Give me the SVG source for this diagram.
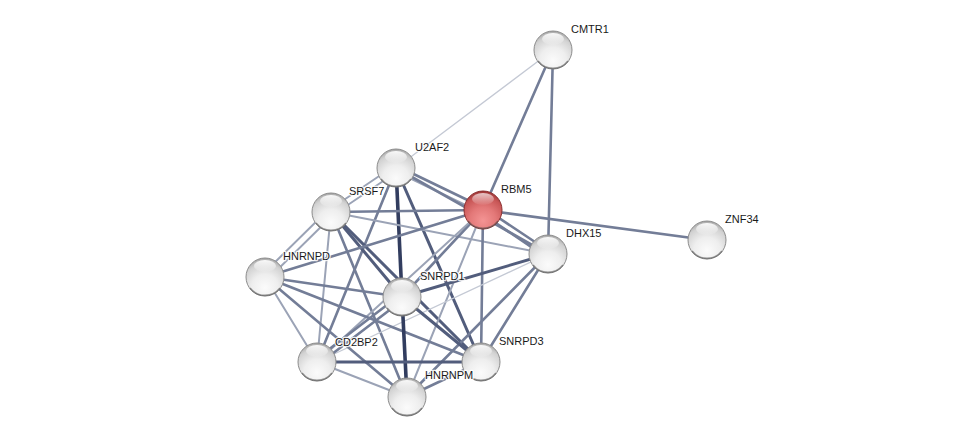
<svg xmlns="http://www.w3.org/2000/svg" width="976" height="441" viewBox="0 0 976 441">
<style>
.e{fill:none;stroke-linecap:round}
.e1{stroke:#c4c9d4;stroke-width:1.3}
.e2{stroke:#9ba3b6;stroke-width:2}
.e3{stroke:#737d97;stroke-width:2.6}
.e4{stroke:#525d7c;stroke-width:3}
.e5{stroke:#323d5f;stroke-width:3.6}
.lbl{font-family:"Liberation Sans",Arial,sans-serif;font-size:11px;fill:#1a1a1a;stroke:#ffffff;stroke-width:2.5;stroke-opacity:0.85;paint-order:stroke;stroke-linejoin:round}
.ball{stroke:#8c8c8c;stroke-width:1}
.rball{stroke:#8a2e2e;stroke-width:1}
.sh{fill:none;stroke:#4a4a4a;stroke-width:1.6;stroke-opacity:0.55}
</style>
<defs>
<radialGradient id="gw" cx="0.5" cy="0.78" r="0.78">
<stop offset="0" stop-color="#fbfbfb"/>
<stop offset="0.45" stop-color="#eeeeee"/>
<stop offset="0.8" stop-color="#d2d2d2"/>
<stop offset="1" stop-color="#a6a6a6"/>
</radialGradient>
<radialGradient id="gr" cx="0.5" cy="0.78" r="0.78">
<stop offset="0" stop-color="#f49494"/>
<stop offset="0.45" stop-color="#e37878"/>
<stop offset="0.8" stop-color="#c85656"/>
<stop offset="1" stop-color="#9c3434"/>
</radialGradient>
<linearGradient id="hl" x1="0" y1="0" x2="0" y2="1">
<stop offset="0" stop-color="#ffffff" stop-opacity="0.95"/>
<stop offset="1" stop-color="#ffffff" stop-opacity="0.05"/>
</linearGradient>
<g id="wb">
<circle class="ball" r="19" fill="url(#gw)"/>
<path class="sh" d="M-15,11 A19,19 0 0 0 15,11"/>
<ellipse cy="-11" rx="11" ry="6" fill="url(#hl)"/>
</g>
</defs>
<rect width="976" height="441" fill="#ffffff"/>
<g id="edges">
<line class="e e1" x1="553" y1="50" x2="396" y2="168"/>
<line class="e e3" x1="553" y1="50" x2="483" y2="210"/>
<line class="e e3" x1="553" y1="50" x2="548" y2="254"/>
<line class="e e3" x1="483" y1="210" x2="707" y2="240"/>
<line class="e e3" x1="484" y1="208" x2="550" y2="252"/>
<line class="e e3" x1="481" y1="213" x2="546" y2="257"/>
<line class="e e3" x1="397" y1="166" x2="484" y2="208"/>
<line class="e e2" x1="395" y1="171" x2="482" y2="213"/>
<line class="e e3" x1="396" y1="168" x2="548" y2="254"/>
<line class="e e2" x1="394" y1="166" x2="329" y2="210"/>
<line class="e e2" x1="398" y1="171" x2="333" y2="215"/>
<line class="e e5" x1="396" y1="168" x2="402" y2="297"/>
<line class="e e4" x1="396" y1="168" x2="481" y2="362"/>
<line class="e e3" x1="396" y1="168" x2="317" y2="362"/>
<line class="e e3" x1="331" y1="212" x2="483" y2="210"/>
<line class="e e2" x1="331" y1="212" x2="548" y2="254"/>
<line class="e e4" x1="331" y1="212" x2="402" y2="297"/>
<line class="e e4" x1="331" y1="212" x2="481" y2="362"/>
<line class="e e3" x1="331" y1="212" x2="407" y2="397"/>
<line class="e e2" x1="329" y1="209" x2="263" y2="274"/>
<line class="e e2" x1="333" y1="215" x2="267" y2="280"/>
<line class="e e2" x1="331" y1="212" x2="317" y2="362"/>
<line class="e e3" x1="483" y1="210" x2="265" y2="277"/>
<line class="e e3" x1="483" y1="210" x2="402" y2="297"/>
<line class="e e2" x1="483" y1="210" x2="317" y2="362"/>
<line class="e e3" x1="483" y1="210" x2="481" y2="362"/>
<line class="e e2" x1="483" y1="210" x2="407" y2="397"/>
<line class="e e4" x1="548" y1="254" x2="402" y2="297"/>
<line class="e e1" x1="548" y1="254" x2="317" y2="362"/>
<line class="e e3" x1="548" y1="254" x2="481" y2="362"/>
<line class="e e3" x1="548" y1="254" x2="407" y2="397"/>
<line class="e e3" x1="265" y1="277" x2="402" y2="297"/>
<line class="e e3" x1="265" y1="277" x2="481" y2="362"/>
<line class="e e2" x1="265" y1="277" x2="317" y2="362"/>
<line class="e e3" x1="265" y1="277" x2="407" y2="397"/>
<line class="e e3" x1="400" y1="295" x2="315" y2="360"/>
<line class="e e3" x1="404" y1="299" x2="319" y2="364"/>
<line class="e e4" x1="402" y1="297" x2="481" y2="362"/>
<line class="e e5" x1="402" y1="297" x2="407" y2="397"/>
<line class="e e4" x1="317" y1="362" x2="481" y2="362"/>
<line class="e e2" x1="317" y1="362" x2="407" y2="397"/>
<line class="e e3" x1="481" y1="362" x2="407" y2="397"/>
</g>
<g id="node-CMTR1">
<use href="#wb" x="553" y="50"/>
<text class="lbl" x="571" y="33">CMTR1</text>
</g>
<g id="node-U2AF2">
<use href="#wb" x="396" y="168"/>
<text class="lbl" x="415" y="151">U2AF2</text>
</g>
<g id="node-SRSF7">
<use href="#wb" x="331" y="212"/>
<text class="lbl" x="349" y="195">SRSF7</text>
</g>
<g id="node-RBM5">
<circle class="rball" cx="483" cy="210" r="19" fill="url(#gr)"/>
<path class="sh" d="M468,221 A19,19 0 0 0 498,221"/>
<ellipse cx="483" cy="199" rx="11" ry="6" fill="url(#hl)" opacity="0.75"/>
<text class="lbl" x="501" y="193">RBM5</text>
</g>
<g id="node-DHX15">
<use href="#wb" x="548" y="254"/>
<text class="lbl" x="566" y="237">DHX15</text>
</g>
<g id="node-ZNF34">
<use href="#wb" x="707" y="240"/>
<text class="lbl" x="725" y="223">ZNF34</text>
</g>
<g id="node-HNRNPD">
<use href="#wb" x="265" y="277"/>
<text class="lbl" x="283" y="260">HNRNPD</text>
</g>
<g id="node-SNRPD1">
<use href="#wb" x="402" y="297"/>
<text class="lbl" x="420" y="280">SNRPD1</text>
</g>
<g id="node-CD2BP2">
<use href="#wb" x="317" y="362"/>
<text class="lbl" x="335" y="346">CD2BP2</text>
</g>
<g id="node-SNRPD3">
<use href="#wb" x="481" y="362"/>
<text class="lbl" x="499" y="345">SNRPD3</text>
</g>
<g id="node-HNRNPM">
<use href="#wb" x="407" y="397"/>
<text class="lbl" x="425" y="379">HNRNPM</text>
</g>
</svg>
